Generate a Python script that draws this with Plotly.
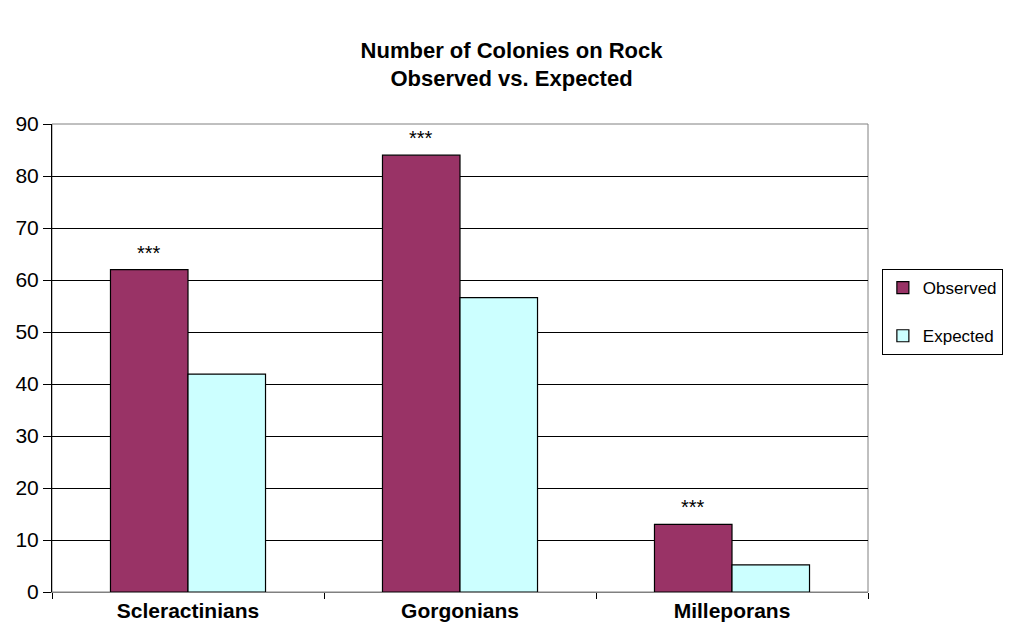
import plotly.graph_objects as go

categories = ["Scleractinians", "Gorgonians", "Milleporans"]
observed = [62, 84, 13]
expected = [41.9, 56.6, 5.2]
significance = ["***", "***", "***"]
y_ticks = [0, 10, 20, 30, 40, 50, 60, 70, 80, 90]

fig = go.Figure()
fig.add_trace(go.Bar(name="Observed", x=categories, y=observed,
                     marker=dict(color="#993366", line=dict(color="black", width=1.2)),
                     legendgroup="o"))
fig.add_trace(go.Bar(name="Expected", x=categories, y=expected,
                     marker=dict(color="#CCFFFF", line=dict(color="black", width=1.2)),
                     legendgroup="e"))

for c, v, s in zip(categories, observed, significance):
    fig.add_annotation(x=c, y=v, text=s, showarrow=False, xref="x", yref="y",
                       xshift=-39, yshift=4, yanchor="bottom",
                       font=dict(family="Arial", size=20, color="black"))

fig.add_shape(type="rect", xref="paper", yref="paper", x0=0, x1=1, y0=0, y1=1,
              line=dict(color="#808080", width=1), layer="below")

fig.update_layout(
    width=1015, height=641,
    margin=dict(l=52, r=147, t=124, b=49),
    paper_bgcolor="white", plot_bgcolor="white",
    barmode="group", bargap=0.43, bargroupgap=0,
    title=dict(text="<b>Number of Colonies on Rock<br>Observed vs. Expected</b>",
               x=0.504, xanchor="center", y=0.91, yanchor="middle",
               font=dict(family="Arial", size=22, color="black")),
    font=dict(family="Arial", color="black"),
    legend=dict(x=1.017, xanchor="left", y=0.69, yanchor="top",
                bordercolor="black", borderwidth=1, bgcolor="white",
                font=dict(family="Arial", size=17, color="black"),
                tracegroupgap=23, traceorder="grouped", itemwidth=30),
    showlegend=True,
)
fig.update_xaxes(type="category", tickson="boundaries", ticks="outside", ticklen=6,
                 tickcolor="black", showline=True, linecolor="#808080",
                 showgrid=False,
                 tickfont=dict(family="Arial", size=21, color="black"),
                 tickprefix="<b>", ticksuffix="</b>")
fig.update_yaxes(range=[0, 90], tickvals=y_ticks, ticks="outside", ticklen=8,
                 tickcolor="black", showline=True, linecolor="black",
                 showgrid=True, gridcolor="black", gridwidth=1, zeroline=False,
                 tickfont=dict(family="Arial", size=21, color="black"))

fig.write_html("out.html")
